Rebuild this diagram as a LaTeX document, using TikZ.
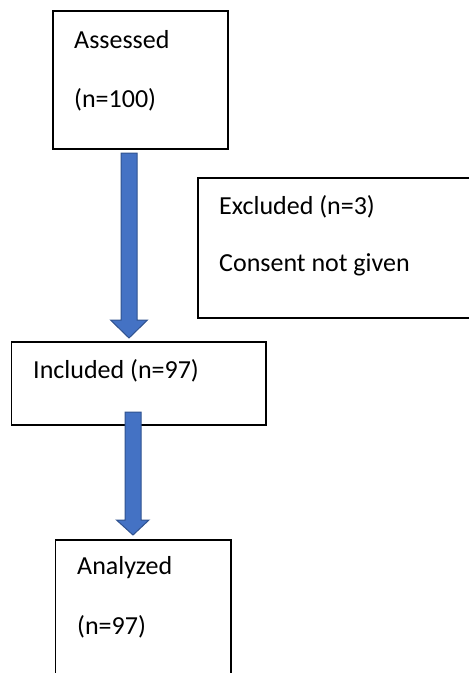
\documentclass[tikz,border=0pt]{standalone}
\usepackage{fontspec}
\setmainfont{Carlito}
\begin{document}
\begin{tikzpicture}[x=1pt,y=-1pt,
  boxs/.style={draw=black,line width=1.3pt,fill=white},
  lbl/.style={anchor=west,inner sep=0pt,font=\fontsize{26}{30}\selectfont},
  blockarrow/.style={fill={rgb,255:red,68;green,114;blue,196},draw={rgb,255:red,47;green,82;blue,143},line width=1pt,line join=miter}]
\useasboundingbox (0,0) rectangle (469,673);
\clip (0,0) rectangle (469,673);
% boxes
\draw[boxs] (53,11) rectangle (228,149);
\draw[boxs] (198,178) rectangle (480,318);
\draw[boxs] (11.5,342) rectangle (266,425);
\draw[boxs] (55.5,540) rectangle (231,690);
% arrows
\draw[blockarrow] (121,153) -- (137,153) -- (137,320) -- (147.5,320) -- (129,338) -- (110.5,320) -- (121,320) -- cycle;
\draw[blockarrow] (125,412) -- (141,412) -- (141,520) -- (149,520) -- (133,535) -- (116.5,520) -- (125,520) -- cycle;
% texts
\node[lbl] (assessed) at (74,40) {Assessed};
\node[lbl] (assessedn) at (74,100) {(n=100)};
\node[lbl] (excluded) at (219,207) {Excluded (n=3)};
\node[lbl] (consent) at (219,265) {Consent not given};
\node[lbl] (included) at (33,371) {Included (n=97)};
\node[lbl] (analyzed) at (77,568) {Analyzed};
\node[lbl] (analyzedn) at (77,627) {(n=97)};
\end{tikzpicture}
\end{document}
